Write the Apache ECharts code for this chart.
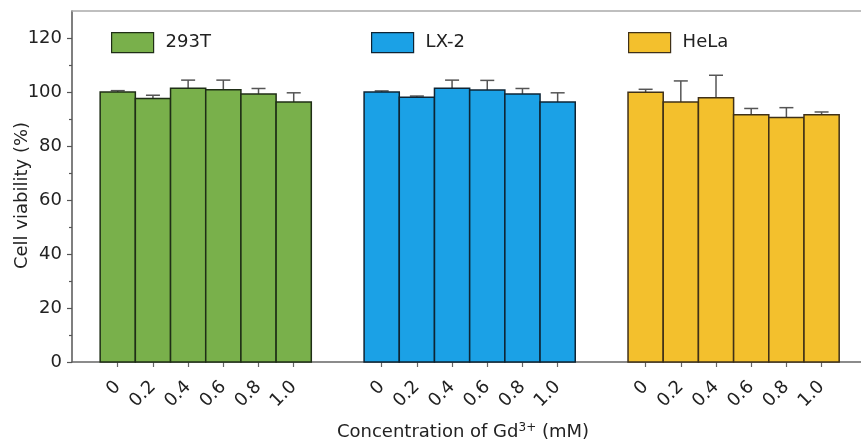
<!DOCTYPE html>
<html>
<head>
<meta charset="utf-8">
<script src="https://cdn.jsdelivr.net/npm/echarts@6/dist/echarts.min.js"></script>
<style>
  html, body { margin: 0; padding: 0; background: #fff; }
  #chart { width: 861px; height: 446px; }
</style>
</head>
<body>
<div id="chart"></div>
<script>
// tick labels / categories
const concentrations = ['0', '0.2', '0.4', '0.6', '0.8', '1.0'];
const cellLines = ['293T', 'LX-2', 'HeLa'];

// cell viability (%) and error (upper SD) per cell line
const viability293T = [100.0, 97.6, 101.4, 100.8, 99.3, 96.3];
const error293T = [0.5, 1.2, 3.0, 3.6, 2.0, 3.4];
const viabilityLX2 = [100.0, 98.1, 101.4, 100.7, 99.3, 96.3];
const errorLX2 = [0.4, 0.4, 3.0, 3.6, 2.0, 3.4];
const viabilityHeLa = [99.9, 96.3, 97.9, 91.6, 90.6, 91.6];
const errorHeLa = [1.1, 7.8, 8.3, 2.3, 3.6, 1.0];

const yTicks = [0, 20, 40, 60, 80, 100, 120];
const yMinorTicks = [10, 30, 50, 70, 90, 110];

const FONT = 'DejaVu Sans, Liberation Sans, Arial, sans-serif';
const GROUP_STEP = 7.5; // gap between cell-line groups, in bar widths

const fills = ['#79b04b', '#1ba1e6', '#f3c02d'];
const borders = ['#1f2e16', '#0e2434', '#3f3018'];

const allValues = [viability293T, viabilityLX2, viabilityHeLa];
const allErrors = [error293T, errorLX2, errorHeLa];

// x position of every bar (group offset + index)
const positions = [];
cellLines.forEach((_, g) => concentrations.forEach((_, i) => positions.push(g * GROUP_STEP + i)));

function barRenderer(fill, border) {
  return function (params, api) {
    const x = api.value(0), y = api.value(1), e = api.value(2);
    const base = api.coord([x, 0]);
    const top = api.coord([x, y]);
    const errTop = api.coord([x, y + e]);
    const w = api.size([1, 0])[0];
    return {
      type: 'group',
      children: [
        {
          type: 'line',
          shape: { x1: top[0], y1: top[1], x2: top[0], y2: errTop[1] },
          style: { stroke: '#555', lineWidth: 1.5 }
        },
        {
          type: 'line',
          shape: { x1: top[0] - 7, y1: errTop[1], x2: top[0] + 7, y2: errTop[1] },
          style: { stroke: '#555', lineWidth: 1.5 }
        },
        {
          type: 'rect',
          shape: { x: base[0] - w / 2, y: top[1], width: w, height: base[1] - top[1] },
          style: { fill: fill, stroke: border, lineWidth: 1.5 }
        }
      ]
    };
  };
}

const series = cellLines.map((name, g) => ({
  name: name,
  type: 'custom',
  renderItem: barRenderer(fills[g], borders[g]),
  itemStyle: { color: fills[g], borderColor: borders[g], borderWidth: 1.2 },
  encode: { x: 0, y: 1 },
  data: allValues[g].map((v, i) => [g * GROUP_STEP + i, v, allErrors[g][i]])
}));

const legendLeft = [111, 371, 628];
const legends = cellLines.map((name, g) => ({
  data: [name],
  left: legendLeft[g],
  top: 32,
  icon: 'rect',
  itemWidth: 42,
  itemHeight: 20,
  itemGap: 0,
  padding: 0,
  selectedMode: false,
  itemStyle: { borderColor: borders[g], borderWidth: 1.2 },
  textStyle: { fontFamily: FONT, fontSize: 18, color: '#222', padding: [0, 0, 0, 7] }
}));

const chart = echarts.init(document.getElementById('chart'), null, { renderer: 'canvas' });

chart.setOption({
  animation: false,
  backgroundColor: '#fff',
  legend: legends,
  grid: { left: 72, right: 0, top: 11, bottom: 84, containLabel: false, outerBoundsMode: 'none' },
  xAxis: [
    {
      type: 'value',
      min: -1.3,
      max: 21.12,
      splitLine: { show: false },
      axisLine: { show: true, onZero: false, lineStyle: { color: '#666', width: 1.5 } },
      axisTick: { show: true, customValues: positions, length: 5, lineStyle: { color: '#666', width: 1.2 } },
      axisLabel: {
        customValues: positions,
        rotate: 45,
        margin: 22,
        fontFamily: FONT,
        fontSize: 18,
        color: '#222',
        formatter: v => concentrations[Math.round(v % GROUP_STEP)]
      },
      name: '{n|Concentration of Gd}{s|3+}{n| (mM)}',
      nameLocation: 'middle',
      nameGap: 60,
      nameMoveOverlap: false,
      nameTextStyle: {
        padding: [0, 7, 0, 0],
        rich: {
          n: { fontFamily: FONT, fontSize: 18, color: '#222' },
          s: { fontFamily: FONT, fontSize: 12, color: '#222', verticalAlign: 'bottom', padding: [0, 0, 8, 0] }
        }
      }
    },
    {
      type: 'value',
      position: 'top',
      min: -1.3,
      max: 21.12,
      splitLine: { show: false },
      axisLine: { show: true, onZero: false, lineStyle: { color: '#aaa', width: 1.5 } },
      axisTick: { show: false },
      axisLabel: { show: false }
    }
  ],
  yAxis: [
    {
      type: 'value',
      min: 0,
      max: 130,
      position: 'left',
      splitLine: { show: false },
      axisLine: { show: true, onZero: false, lineStyle: { color: '#555', width: 1.5 } },
      axisTick: { show: true, customValues: yTicks, length: 5, lineStyle: { color: '#555', width: 1.2 } },
      axisLabel: { customValues: yTicks, margin: 10, fontFamily: FONT, fontSize: 18, color: '#222' },
      name: 'Cell viability (%)',
      nameLocation: 'middle',
      nameGap: 41,
      nameMoveOverlap: false,
      nameTextStyle: { fontFamily: FONT, fontSize: 18, color: '#222', padding: [0, 18, 0, 0] }
    },
    {
      type: 'value',
      min: 0,
      max: 130,
      position: 'left',
      offset: 0,
      splitLine: { show: false },
      axisLine: { show: false, onZero: false },
      axisTick: { show: true, customValues: yMinorTicks, length: 3, lineStyle: { color: '#555', width: 1.2 } },
      axisLabel: { show: false }
    }
  ],
  series: series
});
</script>
</body>
</html>
